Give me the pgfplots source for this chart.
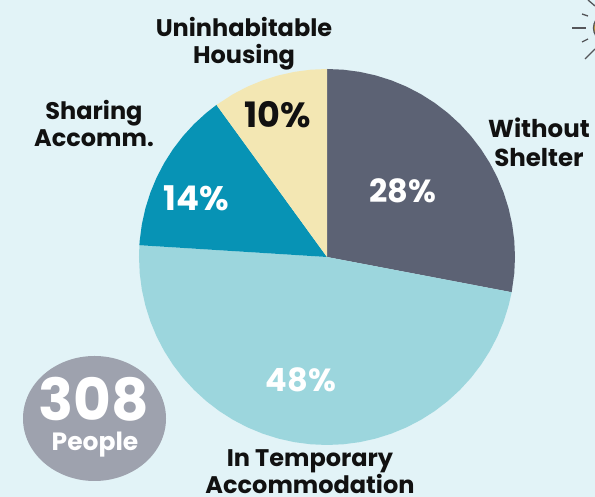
\documentclass[border=0pt]{standalone}
\usepackage{pgfplots}
\pgfplotsset{compat=1.18}
\usepgfplotslibrary{polar}
\usepackage{fontspec}
\setmainfont{Poppins}
\definecolor{bg}{HTML}{E2F3F7}
\definecolor{sliceA}{HTML}{5C6274}
\definecolor{sliceB}{HTML}{9CD6DD}
\definecolor{sliceC}{HTML}{0793B5}
\definecolor{sliceD}{HTML}{F3E7B3}
\definecolor{badge}{HTML}{9EA2AE}
\definecolor{ink}{HTML}{111111}
\definecolor{ray}{HTML}{55565A}
\definecolor{sun}{HTML}{D9B13B}
\begin{document}
\begin{tikzpicture}[x=1pt,y=1pt,every node/.style={inner sep=0pt}]
\path[use as bounding box] (0,0) rectangle (595,497);
\clip (0,0) rectangle (595,497);
\fill[bg] (0,0) rectangle (595,497);
% sun icon
\draw[ray,line width=1.3pt] (572,469) -- (586,469);
\draw[ray,line width=1.3pt] (582,483) -- (588,481);
\draw[ray,line width=1.3pt] (582,455) -- (588,458);
\draw[ray,line width=1.3pt] (585,438) -- (595,448);
\draw[ray,line width=1.3pt] (588,497) -- (595,491);
\draw[ray,fill=sun,line width=1.3pt] (601.5,469) ellipse (8 and 11);
% badge
\fill[badge] (94.5,78.5) ellipse (71.5 and 62.5);
\begin{polaraxis}[
  at={(327pt,240pt)},anchor=center,
  width=376pt,height=376pt,scale only axis,
  hide axis,clip=false,ymin=0,ymax=1,xmin=0,xmax=360]
\addplot[fill=sliceA,draw=none] coordinates {(0,0)(90,1)(85,1)(80,1)(75,1)(70,1)(65,1)(60,1)(55,1)(50,1)(45,1)(40,1)(35,1)(30,1)(25,1)(20,1)(15,1)(10,1)(5,1)(0,1)(-5,1)(-10.8,1)} -- cycle;
\addplot[fill=sliceB,draw=none] coordinates {(0,0)(-10.8,1)(-15,1)(-20,1)(-25,1)(-30,1)(-35,1)(-40,1)(-45,1)(-50,1)(-55,1)(-60,1)(-65,1)(-70,1)(-75,1)(-80,1)(-85,1)(-90,1)(-95,1)(-100,1)(-105,1)(-110,1)(-115,1)(-120,1)(-125,1)(-130,1)(-135,1)(-140,1)(-145,1)(-150,1)(-155,1)(-160,1)(-165,1)(-170,1)(-175,1)(-180,1)(-183.6,1)} -- cycle;
\addplot[fill=sliceC,draw=none] coordinates {(0,0)(-183.6,1)(-185,1)(-190,1)(-195,1)(-200,1)(-205,1)(-210,1)(-215,1)(-220,1)(-225,1)(-230,1)(-234,1)} -- cycle;
\addplot[fill=sliceD,draw=none] coordinates {(0,0)(-234,1)(-240,1)(-245,1)(-250,1)(-255,1)(-260,1)(-265,1)(-270,1)} -- cycle;
\end{polaraxis}
% percentages
\node[white,font=\fontsize{32}{34}\selectfont\bfseries] at (403,306) {28\%};
\node[white,font=\fontsize{32}{34}\selectfont\bfseries] at (301,117) {48\%};
\node[white,font=\fontsize{34}{36}\selectfont\bfseries] at (196,299) {14\%};
\node[ink,font=\fontsize{35}{38}\selectfont\bfseries] at (278,382) {10\%};
% category labels
\node[ink,align=center,font=\fontsize{24}{27}\selectfont\bfseries] at (244,453.5) {Uninhabitable\\Housing};
\node[ink,align=center,font=\fontsize{24}{27}\selectfont\bfseries] at (94,374) {Sharing\\Accomm.};
\node[ink,align=center,font=\fontsize{24.5}{29}\selectfont\bfseries] at (539,355) {Without\\Shelter};
\node[ink,align=center,font=\fontsize{24}{27}\selectfont\bfseries] at (310,25.5) {In Temporary\\Accommodation};
% badge text
\node[white,font=\fontsize{58}{60}\selectfont\bfseries] at (94,98) {308};
\node[white,font=\fontsize{25}{27}\selectfont\bfseries] at (95,52) {People};
\end{tikzpicture}
\end{document}
